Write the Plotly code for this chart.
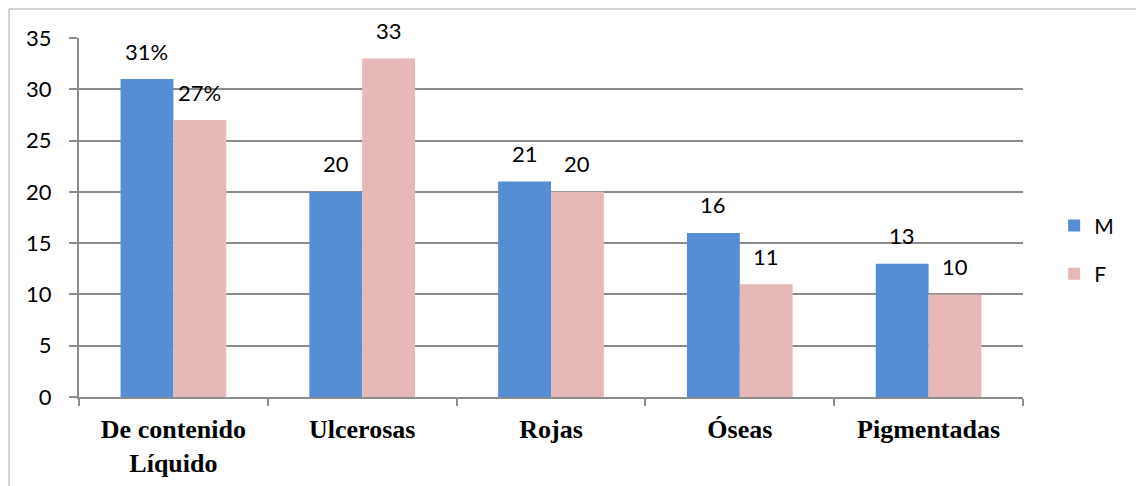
import plotly.graph_objects as go

categories = ["<b>De contenido<br>Líquido</b>", "<b>Ulcerosas</b>", "<b>Rojas</b>",
              "<b>Óseas</b>", "<b>Pigmentadas</b>"]
m_values = [31, 20, 21, 16, 13]
f_values = [27, 33, 20, 11, 10]
label_suffix = ["%", "", "", "", ""]
y_ticks = [0, 5, 10, 15, 20, 25, 30, 35]

BLUE = "#558ED5"
PINK = "#E6B9B8"
GRID = "#8C8C8C"

W, H = 1136, 486
L, R, T, B = 79, 113, 38, 89
plot_w = W - L - R
plot_h = H - T - B

fig = go.Figure()
fig.add_trace(go.Bar(x=categories, y=m_values, name="M", marker_color=BLUE,
                     marker_line_width=0, legendgroup="m"))
fig.add_trace(go.Bar(x=categories, y=f_values, name="F", marker_color=PINK,
                     marker_line_width=0, legendgroup="f"))

# value labels sit a little above each bar
bar_px = plot_w / len(categories) * 0.56 / 2
for cat, mv, fv, suf in zip(categories, m_values, f_values, label_suffix):
    for val, shift in ((mv, -bar_px / 2), (fv, bar_px / 2)):
        fig.add_annotation(x=cat, y=val, xref="x", yref="y", text=f"{val}{suf}",
                           showarrow=False, xshift=shift, yshift=28,
                           yanchor="middle", xanchor="center",
                           font=dict(family="Lato", size=22, color="#000"))

# outer chart frame
fig.add_shape(type="rect", xref="paper", yref="paper",
              x0=(9 - L) / plot_w, x1=(W + 20 - L) / plot_w,
              y0=-(H + 20 - T - plot_h) / plot_h, y1=(H - B - 9) / plot_h,
              line=dict(color="#A6A6A6", width=1), fillcolor="rgba(0,0,0,0)", layer="below")

fig.update_layout(
    width=W, height=H,
    margin=dict(l=L, r=R, t=T, b=B, autoexpand=False),
    paper_bgcolor="white", plot_bgcolor="white",
    barmode="group", bargap=0.44, bargroupgap=0,
    showlegend=True,
    legend=dict(x=1.033, y=0.41, xanchor="left", yanchor="middle",
                traceorder="grouped", tracegroupgap=18,
                font=dict(family="Lato", size=21, color="#000"),
                itemwidth=30, bgcolor="rgba(0,0,0,0)"),
    xaxis=dict(showgrid=False, showline=True, linecolor=GRID, linewidth=2,
               ticks="outside", tickson="boundaries", ticklen=7, tickcolor=GRID,
               tickwidth=2, ticklabelstandoff=8, automargin=False,
               tickfont=dict(family="Liberation Serif", size=26, color="#000"),
               ),
    yaxis=dict(range=[0, 35], tickvals=y_ticks, showgrid=True, gridcolor=GRID,
               gridwidth=2, showline=True, linecolor=GRID, linewidth=2,
               ticks="outside", ticklen=8, tickcolor=GRID, tickwidth=2,
               zeroline=False, ticklabelstandoff=13, automargin=False,
               tickfont=dict(family="Lato", size=22, color="#000")),
)

fig.write_html("out.html")
